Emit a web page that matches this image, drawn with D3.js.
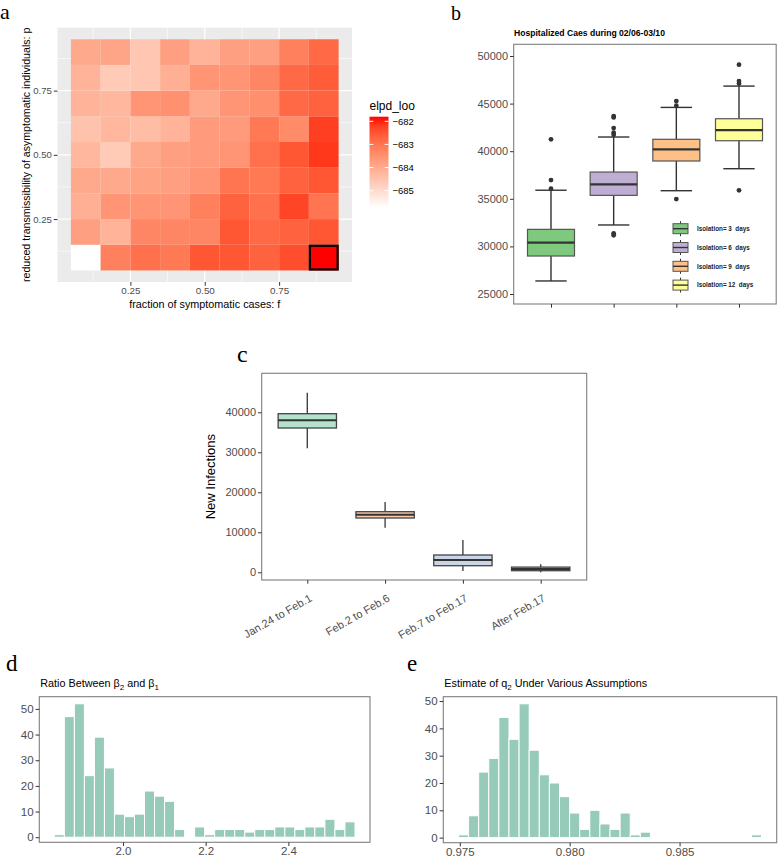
<!DOCTYPE html>
<html><head><meta charset="utf-8">
<script src="https://cdn.jsdelivr.net/npm/d3@7"></script>
<style>
body { margin: 0; background: #fff; }
text { font-family: "Liberation Sans", Arial, sans-serif; }
.letter { font-family: "Liberation Serif", "Times New Roman", serif; fill: #000; }
</style>
</head><body>
<script>
// ---- panel a: elpd_loo grid (rows = p from 0.1 to 0.9, cols = f from 0.1 to 0.9)
var fVals = [0.1, 0.2, 0.3, 0.4, 0.5, 0.6, 0.7, 0.8, 0.9];
var pVals = [0.1, 0.2, 0.3, 0.4, 0.5, 0.6, 0.7, 0.8, 0.9];
var elpdRows = [
    [-685.75, -683.18, -682.91, -683.06, -682.51, -682.51, -682.67, -682.39, -681.80],
    [-683.78, -684.17, -683.30, -683.30, -683.30, -682.51, -682.79, -682.67, -682.51],
    [-684.09, -683.58, -683.58, -683.58, -683.18, -682.67, -682.91, -682.27, -682.99],
    [-683.97, -683.97, -683.85, -683.78, -683.58, -682.99, -683.06, -682.67, -682.51],
    [-684.25, -684.64, -683.97, -683.78, -683.70, -683.58, -682.91, -682.51, -682.12],
    [-684.49, -684.25, -684.37, -684.17, -683.70, -683.70, -683.06, -683.38, -682.20],
    [-684.17, -684.25, -683.58, -683.50, -683.97, -683.58, -683.46, -682.79, -682.67],
    [-684.17, -684.64, -684.57, -684.09, -683.58, -683.58, -683.30, -682.79, -682.59],
    [-683.97, -683.89, -684.57, -683.78, -684.17, -683.78, -683.78, -683.18, -682.79]
];
var elpdTicks = [-682, -683, -684, -685];
var gridTicks = [0.25, 0.50, 0.75];

// ---- panel b: hospitalized cases boxplots
var isoLabels = ["Isolation= 3  days", "Isolation= 6  days", "Isolation= 9  days", "Isolation= 12  days"];
var isoColors = ["#7fc97f", "#beaed4", "#fdc086", "#ffff99"];
var hospLower = [26370, 32250, 35850, 38160];
var hospQ1 = [28990, 35360, 38970, 41100];
var hospMedian = [30390, 36520, 40200, 42220];
var hospQ3 = [31790, 37810, 41250, 43410];
var hospUpper = [35900, 41490, 44600, 46840];
var hospOutliers = [
    [41250, 36970, 36060],
    [43690, 43550, 42430, 41940, 41730, 31370, 31160],
    [45270, 44780, 34975],
    [49090, 47370, 47100, 35890]
];
var hospTicks = [25000, 30000, 35000, 40000, 45000, 50000];

// ---- panel c: new infections by period
var periods = ["Jan.24 to Feb.1", "Feb.2 to Feb.6", "Feb.7 to Feb.17", "After Feb.17"];
var periodColors = ["#b3e2cd", "#fdcdac", "#cbd5e8", "#f4cae4"];
var infLower = [31000, 11150, 325, 0];
var infQ1 = [36075, 13575, 1650, 400];
var infMedian = [38000, 14400, 3075, 850];
var infQ3 = [39650, 15150, 4325, 1300];
var infUpper = [44900, 17575, 8075, 2000];
var infTicks = [0, 10000, 20000, 30000, 40000];

// ---- panel d: histogram of beta2 / beta1
var ratioRange = [1.834, 2.561];
var ratioCounts = [1, 47, 52, 24, 39, 27, 9, 8, 9, 18, 16, 14, 3, 0, 4, 1, 3, 3, 3, 2, 3, 3, 4, 4, 3, 4, 4, 7, 3, 6];
var ratioTicks = [2.0, 2.2, 2.4];

// ---- panel e: histogram of q2
var q2Range = [0.97494, 0.98873];
var q2Counts = [1, 8, 24, 29, 44, 36, 49, 32, 23, 20, 15, 9, 3, 10, 5, 3, 9, 1, 2, 0, 0, 0, 0, 0, 0, 0, 0, 0, 0, 1];
var q2Ticks = [0.975, 0.980, 0.985];
var histTicks = [0, 10, 20, 30, 40, 50];

var svg = d3.select("body").append("svg")
    .attr("width", 778)
    .attr("height", 858);

function styleAxis(g, size) {
    g.select(".domain").remove();
    g.selectAll(".tick line").attr("stroke", "#333333").attr("stroke-width", 1);
    g.selectAll(".tick text").attr("fill", "#4d4d4d").style("font-size", (size || 11) + "px");
}

function panelBox(g, x0, y0, x1, y1) {
    g.append("rect")
        .attr("x", x0).attr("y", y0)
        .attr("width", x1 - x0).attr("height", y1 - y0)
        .attr("fill", "none")
        .attr("stroke", "#7f7f7f")
        .attr("stroke-width", 1.1);
}

function letter(x, y, size, t) {
    svg.append("text").attr("class", "letter")
        .attr("x", x).attr("y", y)
        .style("font-size", size + "px")
        .text(t);
}

// ================= panel a =================
var xA = d3.scaleLinear().domain([0.005, 0.995]).range([57.5, 352]);
var yA = d3.scaleLinear().domain([0.005, 0.995]).range([282, 27.7]);
var colA = d3.scaleLinear().domain([-685.75, -681.8]).range(["#ffffff", "#ff0000"]).interpolate(d3.interpolateLab);

var gA = svg.append("g");
gA.append("rect")
    .attr("x", xA(0.005)).attr("y", yA(0.995))
    .attr("width", xA(0.995) - xA(0.005)).attr("height", yA(0.005) - yA(0.995))
    .attr("fill", "#ebebeb");

var minorA = [0.125, 0.375, 0.625, 0.875];
gA.selectAll(".vminor").data(minorA).enter().append("line")
    .attr("x1", function (d) { return xA(d); }).attr("x2", function (d) { return xA(d); })
    .attr("y1", yA(0.005)).attr("y2", yA(0.995))
    .attr("stroke", "#fff").attr("stroke-width", 0.6);
gA.selectAll(".hminor").data(minorA).enter().append("line")
    .attr("y1", function (d) { return yA(d); }).attr("y2", function (d) { return yA(d); })
    .attr("x1", xA(0.005)).attr("x2", xA(0.995))
    .attr("stroke", "#fff").attr("stroke-width", 0.6);
gA.selectAll(".vmajor").data(gridTicks).enter().append("line")
    .attr("x1", function (d) { return xA(d); }).attr("x2", function (d) { return xA(d); })
    .attr("y1", yA(0.005)).attr("y2", yA(0.995))
    .attr("stroke", "#fff").attr("stroke-width", 1.2);
gA.selectAll(".hmajor").data(gridTicks).enter().append("line")
    .attr("y1", function (d) { return yA(d); }).attr("y2", function (d) { return yA(d); })
    .attr("x1", xA(0.005)).attr("x2", xA(0.995))
    .attr("stroke", "#fff").attr("stroke-width", 1.2);

var tiles = [];
pVals.forEach(function (p, i) {
    fVals.forEach(function (f, j) {
        tiles.push({f: f, p: p, v: elpdRows[i][j]});
    });
});
gA.selectAll(".tile").data(tiles).enter().append("rect")
    .attr("x", function (d) { return xA(d.f - 0.05); })
    .attr("y", function (d) { return yA(d.p + 0.05); })
    .attr("width", function (d) { return xA(d.f + 0.05) - xA(d.f - 0.05); })
    .attr("height", function (d) { return yA(d.p - 0.05) - yA(d.p + 0.05); })
    .attr("fill", function (d) { return colA(d.v); });

var best = tiles.reduce(function (a, b) { return b.v > a.v ? b : a; });
gA.append("rect")
    .attr("x", xA(best.f - 0.05) + 1)
    .attr("y", yA(best.p + 0.05) + 1)
    .attr("width", xA(best.f + 0.05) - xA(best.f - 0.05) - 2)
    .attr("height", yA(best.p - 0.05) - yA(best.p + 0.05) - 2)
    .attr("fill", "none").attr("stroke", "#000").attr("stroke-width", 2.2);

gA.append("g").attr("transform", "translate(0," + yA(0.005) + ")")
    .call(d3.axisBottom(xA).tickValues(gridTicks).tickFormat(d3.format(".2f")).tickSize(3.7).tickPadding(1.5))
    .call(styleAxis, 9.9);
gA.append("g").attr("transform", "translate(" + xA(0.005) + ",0)")
    .call(d3.axisLeft(yA).tickValues(gridTicks).tickFormat(d3.format(".2f")).tickSize(3.7).tickPadding(2))
    .call(styleAxis, 9.6);

gA.append("text")
    .attr("x", (xA(0.005) + xA(0.995)) / 2).attr("y", 308)
    .attr("text-anchor", "middle").style("font-size", "10.8px").attr("fill", "#000")
    .text("fraction of symptomatic cases: f");
gA.append("text")
    .attr("transform", "translate(29.5," + ((yA(0.005) + yA(0.995)) / 2) + ") rotate(-90)")
    .attr("text-anchor", "middle").style("font-size", "10.6px").attr("fill", "#000")
    .text("reduced transmissibility of asymptomatic individuals: p");

// legend colourbar
var yLeg = d3.scaleLinear().domain([-685.75, -681.8]).range([208, 116.7]);
var grad = svg.append("defs").append("linearGradient")
    .attr("id", "elpdGrad").attr("x1", 0).attr("y1", 1).attr("x2", 0).attr("y2", 0);
d3.range(0, 1.0001, 0.1).forEach(function (t) {
    grad.append("stop").attr("offset", t)
        .attr("stop-color", colA(-685.75 + t * (3.95)));
});
gA.append("rect")
    .attr("x", 369.5).attr("y", yLeg(-681.8))
    .attr("width", 19).attr("height", yLeg(-685.75) - yLeg(-681.8))
    .attr("fill", "url(#elpdGrad)");
gA.selectAll(".legtickL").data(elpdTicks).enter().append("line")
    .attr("x1", 369.5).attr("x2", 373.3)
    .attr("y1", function (d) { return yLeg(d); }).attr("y2", function (d) { return yLeg(d); })
    .attr("stroke", "#fff").attr("stroke-width", 1);
gA.selectAll(".legtickR").data(elpdTicks).enter().append("line")
    .attr("x1", 384.7).attr("x2", 388.5)
    .attr("y1", function (d) { return yLeg(d); }).attr("y2", function (d) { return yLeg(d); })
    .attr("stroke", "#fff").attr("stroke-width", 1);
gA.selectAll(".leglab").data(elpdTicks).enter().append("text")
    .attr("x", 392.5).attr("y", function (d) { return yLeg(d) + 3.5; })
    .style("font-size", "9.5px").attr("fill", "#000")
    .text(function (d) { return "\u2212" + Math.abs(d); });
gA.append("text").attr("x", 369.5).attr("y", 110)
    .style("font-size", "12px").attr("fill", "#000").text("elpd_loo");

letter(0, 19, 22, "a");

// ================= panel b =================
var xB = d3.scalePoint().domain(isoLabels).range([551, 739]);
var stepB = xB.step();
var yB = d3.scaleLinear().domain([25000, 50000]).range([294, 56]);
var gB = svg.append("g");
panelBox(gB, 513.7, 44.3, 776.2, 304);

gB.append("g").attr("transform", "translate(513.7,0)")
    .call(d3.axisLeft(yB).tickValues(hospTicks).tickFormat(d3.format("d")).tickSize(3.7).tickPadding(2))
    .call(styleAxis, 11);
gB.append("g").attr("transform", "translate(0,304)")
    .call(d3.axisBottom(xB).tickSize(3.7).tickFormat(""))
    .call(styleAxis);

var boxesB = isoLabels.map(function (d, i) {
    return {k: d, c: isoColors[i], lo: hospLower[i], q1: hospQ1[i], md: hospMedian[i], q3: hospQ3[i], hi: hospUpper[i], out: hospOutliers[i]};
});
var bB = gB.selectAll(".boxb").data(boxesB).enter().append("g");
bB.append("line")
    .attr("x1", function (d) { return xB(d.k); }).attr("x2", function (d) { return xB(d.k); })
    .attr("y1", function (d) { return yB(d.hi); }).attr("y2", function (d) { return yB(d.lo); })
    .attr("stroke", "#333").attr("stroke-width", 1.4);
// error bar caps
["hi", "lo"].forEach(function (key) {
    bB.append("line")
        .attr("x1", function (d) { return xB(d.k) - stepB * 0.25; })
        .attr("x2", function (d) { return xB(d.k) + stepB * 0.25; })
        .attr("y1", function (d) { return yB(d[key]); }).attr("y2", function (d) { return yB(d[key]); })
        .attr("stroke", "#333").attr("stroke-width", 1.4);
});
bB.append("rect")
    .attr("x", function (d) { return xB(d.k) - stepB * 0.375; })
    .attr("width", stepB * 0.75)
    .attr("y", function (d) { return yB(d.q3); })
    .attr("height", function (d) { return yB(d.q1) - yB(d.q3); })
    .attr("fill", function (d) { return d.c; })
    .attr("stroke", "#555").attr("stroke-width", 1.2);
bB.append("line")
    .attr("x1", function (d) { return xB(d.k) - stepB * 0.375; })
    .attr("x2", function (d) { return xB(d.k) + stepB * 0.375; })
    .attr("y1", function (d) { return yB(d.md); }).attr("y2", function (d) { return yB(d.md); })
    .attr("stroke", "#333").attr("stroke-width", 2.2);
bB.each(function (d) {
    d3.select(this).selectAll("circle").data(d.out).enter().append("circle")
        .attr("cx", xB(d.k)).attr("cy", function (v) { return yB(v); })
        .attr("r", 2.4).attr("fill", "#333");
});

gB.append("text").attr("x", 514).attr("y", 36)
    .style("font-size", "8.6px").style("font-weight", "bold").attr("fill", "#000")
    .text("Hospitalized Caes during 02/06-03/10");

// legend
var legB = gB.selectAll(".legb").data(boxesB).enter().append("g")
    .attr("transform", function (d, i) { return "translate(673," + (228.7 + i * 18.8) + ")"; });
legB.append("line").attr("x1", 7.5).attr("x2", 7.5).attr("y1", -7.5).attr("y2", 7.5)
    .attr("stroke", "#333").attr("stroke-width", 1);
legB.append("rect").attr("x", 0).attr("y", -5).attr("width", 15).attr("height", 10)
    .attr("fill", function (d) { return d.c; }).attr("stroke", "#555").attr("stroke-width", 1);
legB.append("line").attr("x1", 0).attr("x2", 15).attr("y1", 0).attr("y2", 0)
    .attr("stroke", "#333").attr("stroke-width", 1.4);
legB.append("text").attr("x", 24).attr("y", 2.3)
    .style("font-size", "6.3px").style("font-weight", "bold").attr("fill", "#222")
    .attr("xml:space", "preserve").style("white-space", "pre")
    .text(function (d) { return d.k; });

letter(451, 20, 20, "b");

// ================= panel c =================
var xC = d3.scalePoint().domain(periods).range([307.3, 540.7]);
var stepC = xC.step();
var yC = d3.scaleLinear().domain([0, 40000]).range([572.3, 412.3]);
var gC = svg.append("g");
panelBox(gC, 261.7, 373.3, 586.7, 580);

gC.append("g").attr("transform", "translate(261.7,0)")
    .call(d3.axisLeft(yC).tickValues(infTicks).tickFormat(d3.format("d")).tickSize(3.7).tickPadding(2))
    .call(styleAxis, 11);
var axC = gC.append("g").attr("transform", "translate(0,580)")
    .call(d3.axisBottom(xC).tickSize(3.7).tickPadding(2))
    .call(styleAxis, 11);
axC.selectAll(".tick text")
    .attr("text-anchor", "end")
    .attr("x", 0).attr("y", 0)
    .attr("dy", "0.35em")
    .attr("transform", "translate(3,17) rotate(-30)");

var boxesC = periods.map(function (d, i) {
    return {k: d, c: periodColors[i], lo: infLower[i], q1: infQ1[i], md: infMedian[i], q3: infQ3[i], hi: infUpper[i]};
});
var bC = gC.selectAll(".boxc").data(boxesC).enter().append("g");
bC.append("line")
    .attr("x1", function (d) { return xC(d.k); }).attr("x2", function (d) { return xC(d.k); })
    .attr("y1", function (d) { return yC(d.hi); }).attr("y2", function (d) { return yC(d.lo); })
    .attr("stroke", "#444").attr("stroke-width", 1.4);
bC.append("rect")
    .attr("x", function (d) { return xC(d.k) - stepC * 0.375; })
    .attr("width", stepC * 0.75)
    .attr("y", function (d) { return yC(d.q3); })
    .attr("height", function (d) { return yC(d.q1) - yC(d.q3); })
    .attr("fill", function (d) { return d.c; })
    .attr("stroke", "#444").attr("stroke-width", 1.3);
bC.append("line")
    .attr("x1", function (d) { return xC(d.k) - stepC * 0.375; })
    .attr("x2", function (d) { return xC(d.k) + stepC * 0.375; })
    .attr("y1", function (d) { return yC(d.md); }).attr("y2", function (d) { return yC(d.md); })
    .attr("stroke", "#333").attr("stroke-width", 2);

gC.append("text")
    .attr("transform", "translate(215," + ((373.3 + 580) / 2) + ") rotate(-90)")
    .attr("text-anchor", "middle").style("font-size", "13px").attr("fill", "#000")
    .text("New Infections");

letter(237, 362, 24, "c");

// ================= histograms =================
function histogram(range, counts, ticks, fmt, xr, yr, title, sub, rest, sub2) {
    var n = counts.length,
        w = (range[1] - range[0]) / n;
    var pad = (range[1] - range[0]) * 0.05;
    var x = d3.scaleLinear().domain([range[0] - pad, range[1] + pad]).range(xr);
    var maxC = d3.max(counts);
    var y = d3.scaleLinear().domain([-maxC * 0.038, maxC * 1.053]).range(yr);
    var g = svg.append("g");
    var bins = counts.map(function (c, i) {
        return {x0: range[0] + i * w, x1: range[0] + (i + 1) * w, c: c};
    });
    g.selectAll(".bar").data(bins).enter().append("rect")
        .attr("x", function (d) { return x(d.x0); })
        .attr("width", function (d) { return x(d.x1) - x(d.x0); })
        .attr("y", function (d) { return y(d.c); })
        .attr("height", function (d) { return y(0) - y(d.c); })
        .attr("fill", "#96cbb9")
        .attr("stroke", function (d) { return d.c === 0 ? "#dfe7ee" : "#ffffff"; })
        .attr("stroke-width", 1);
    panelBox(g, xr[0], yr[1], xr[1], yr[0]);
    g.append("g").attr("transform", "translate(" + xr[0] + ",0)")
        .call(d3.axisLeft(y).tickValues(histTicks).tickSize(3.7).tickPadding(2))
        .call(styleAxis, 11.5);
    g.append("g").attr("transform", "translate(0," + yr[0] + ")")
        .call(d3.axisBottom(x).tickValues(ticks).tickFormat(d3.format(fmt)).tickSize(3.7).tickPadding(1))
        .call(styleAxis, 11.5);
    var t = g.append("text").attr("x", xr[0] + 1).attr("y", yr[1] - 10)
        .style("font-size", "10.8px").attr("fill", "#000");
    t.append("tspan").text(title);
    t.append("tspan").attr("dy", 3).style("font-size", "8px").text(sub);
    t.append("tspan").attr("dy", -3).text(rest);
    if (sub2) t.append("tspan").attr("dy", 3).style("font-size", "8px").text(sub2);
}

histogram(ratioRange, ratioCounts, ratioTicks, ".1f", [39.3, 370], [842.3, 696.7],
    "Ratio Between \u03b2", "2", " and \u03b2", "1");
histogram(q2Range, q2Counts, q2Ticks, ".3f", [443.3, 776.7], [842.7, 696.7],
    "Estimate of q", "2", " Under Various Assumptions", null);

letter(6, 671, 23, "d");
letter(407, 671, 23, "e");
</script>
</body></html>
